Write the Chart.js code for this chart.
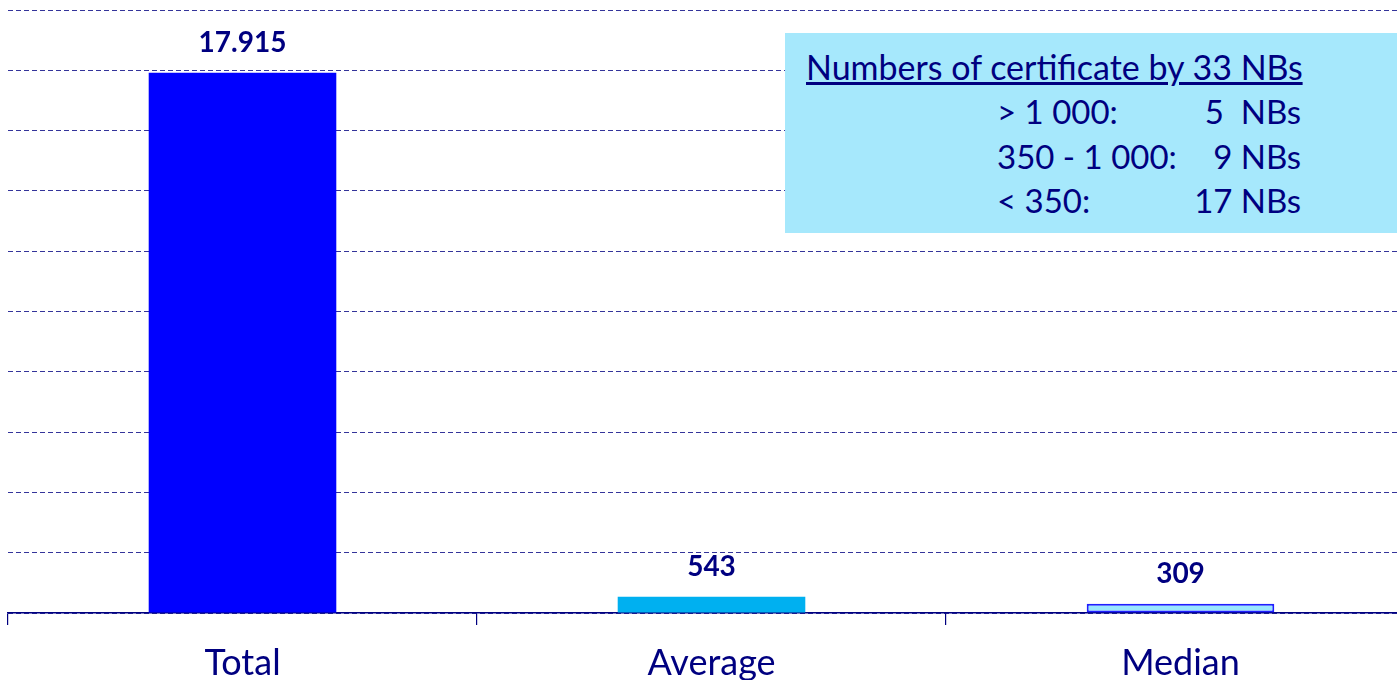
<!DOCTYPE html>
<html>
<head>
<meta charset="utf-8">
<script src="https://cdn.jsdelivr.net/npm/chart.js@4/dist/chart.umd.min.js"></script>
<style>
  html, body { margin: 0; padding: 0; background: #fff; overflow: hidden; }
  #wrap { position: relative; width: 1397px; height: 680px; overflow: hidden; }
  #box {
    position: absolute; left: 785px; top: 33px; width: 612px; height: 200px;
    background: #a6e8fc; color: #000080; font-family: Lato, sans-serif; font-size: 33px;
    line-height: 40px;
  }
  #box .title { position: absolute; left: 21px; top: 14px; font-size: 34px; text-decoration: underline; white-space: pre; }
  #box .lbl { position: absolute; left: 212px; white-space: pre; }
  #box .val { position: absolute; right: 96px; white-space: pre; }
</style>
</head>
<body>
<div id="wrap">
  <canvas id="chart" width="1415" height="680"></canvas>
  <div id="box"></div>
</div>
<script>
const categories = ['Total', 'Average', 'Median'];
const values = [17915, 543, 309];
const valueLabels = ['17.915', '543', '309'];
const boxTitle = 'Numbers of certificate by 33 NBs';
const boxRows = ['> 1 000:', '350 - 1 000:', '< 350:'];
const boxValues = ['5  NBs', '9 NBs', '17 NBs'];

const navy = '#000080';

// info box (real text)
const box = document.getElementById('box');
let html = '<div class="title">' + boxTitle + '</div>';
boxRows.forEach((r, i) => {
  const top = 58 + i * 44.5;
  html += '<div class="lbl" style="top:' + top + 'px">' + r.replace(/</g, '&lt;').replace(/>/g, '&gt;') + '</div>';
  html += '<div class="val" style="top:' + top + 'px">' + boxValues[i] + '</div>';
});
box.innerHTML = html;

const valueLabelPlugin = {
  id: 'valueLabels',
  afterDatasetsDraw(chart) {
    const ctx = chart.ctx;
    const meta = chart.getDatasetMeta(0);
    ctx.save();
    ctx.font = 'bold 28px Lato';
    ctx.fillStyle = navy;
    ctx.textAlign = 'center';
    ctx.textBaseline = 'middle';
    meta.data.forEach((bar, i) => {
      ctx.fillText(valueLabels[i], bar.x, bar.y - 30);
    });
    ctx.restore();
  }
};

const ctx = document.getElementById('chart').getContext('2d');
const myChart = new Chart(ctx, {
  type: 'bar',
  data: {
    labels: categories,
    datasets: [{
      data: values,
      backgroundColor: ['#0000ff', '#00b0f0', '#99e6ff'],
      borderColor: ['#0000ff', '#00b0f0', '#1f1fff'],
      borderWidth: [0, 0, 2],
      borderSkipped: false,
      barPercentage: 0.4,
      categoryPercentage: 1
    }]
  },
  options: {
    responsive: false,
    animation: false,
    layout: { padding: { left: 8, top: 10, right: 0, bottom: 0 } },
    plugins: { legend: { display: false }, tooltip: { enabled: false } },
    scales: {
      x: {
        grid: { drawOnChartArea: false, drawTicks: true, tickLength: 12, color: navy, lineWidth: 1.2, offset: true },
        border: { display: true, color: navy, width: 1.5 },
        ticks: { color: navy, font: { family: 'Lato', size: 36 }, padding: 17 },
        afterFit: (scale) => { scale.height = 67; }
      },
      y: {
        min: 0,
        max: 20000,
        ticks: { display: false, stepSize: 2000 },
        grid: { color: navy, lineWidth: 0.8, drawTicks: false },
        border: { display: false, dash: [5, 3] }
      }
    }
  },
  plugins: [valueLabelPlugin]
});
</script>
</body>
</html>
